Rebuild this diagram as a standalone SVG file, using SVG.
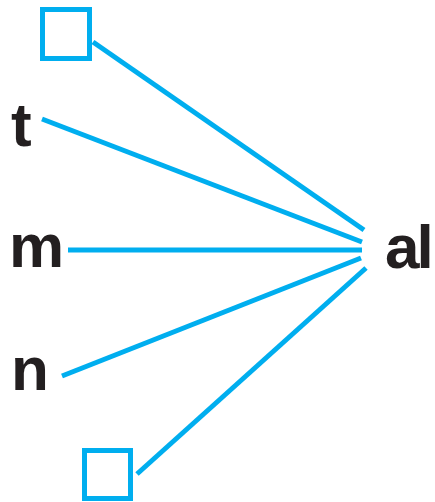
<svg xmlns="http://www.w3.org/2000/svg" width="435" height="502" viewBox="0 0 435 502">
<style>
.lbl{font-family:"Liberation Sans",Arial,sans-serif;font-weight:bold;font-size:62px;fill:#231f20}
.box{fill:none;stroke:#00aeef;stroke-width:5}
.con line{stroke:#00aeef;stroke-width:5;stroke-linecap:butt}
</style>
<rect width="435" height="502" fill="#ffffff"/>
<g id="box-top"><rect class="box" x="42.5" y="9.5" width="47" height="49"/></g>
<g id="node-t"><text class="lbl" x="11" y="146">t</text></g>
<g id="node-m"><text class="lbl" x="9" y="267">m</text></g>
<g id="node-n"><text class="lbl" x="11" y="390">n</text></g>
<g id="box-bottom"><rect class="box" x="84.5" y="450.5" width="46" height="48"/></g>
<g id="node-al"><text class="lbl" x="385" y="268" letter-spacing="-3">al</text></g>
<g id="connectors" class="con">
<line x1="93" y1="42" x2="364" y2="230"/>
<line x1="42" y1="119" x2="362" y2="242"/>
<line x1="68" y1="250" x2="362" y2="250"/>
<line x1="62" y1="376" x2="361" y2="258"/>
<line x1="137" y1="474" x2="366" y2="268"/>
</g>
</svg>
